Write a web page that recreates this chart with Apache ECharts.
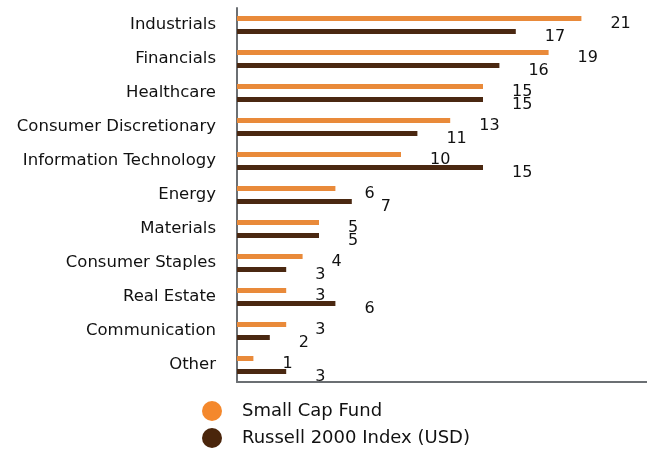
<!DOCTYPE html>
<html>
<head>
<meta charset="utf-8">
<script src="https://cdn.jsdelivr.net/npm/echarts@6/dist/echarts.min.js"></script>
<style>
html, body { margin: 0; padding: 0; background: #fff; }
#main { width: 647px; height: 454px; }
</style>
</head>
<body>
<div id="main"></div>
<script>
// sectors, top to bottom
var sectors = ['Industrials', 'Financials', 'Healthcare', 'Consumer Discretionary', 'Information Technology',
    'Energy', 'Materials', 'Consumer Staples', 'Real Estate', 'Communication', 'Other'];
var fundValues = [21, 19, 15, 13, 10, 6, 5, 4, 3, 3, 1];
var indexValues = [17, 16, 15, 11, 15, 7, 5, 3, 6, 2, 3];
var seriesNames = ['Small Cap Fund', 'Russell 2000 Index (USD)'];

var fontName = 'DejaVu Sans';

var valueLabel = {
    show: true,
    position: 'right',
    distance: 29,
    offset: [0, 5],
    color: '#111',
    fontSize: 16,
    fontFamily: fontName
};

var option = {
    animation: false,
    grid: {
        left: 237,
        right: 0,
        top: 8,
        bottom: 72
    },
    legend: {
        orient: 'vertical',
        left: 202,
        top: 401,
        padding: 0,
        icon: 'circle',
        itemWidth: 20,
        itemHeight: 20,
        itemGap: 7,
        textStyle: { color: '#111', fontSize: 18, fontFamily: fontName, padding: [0, 0, 0, 15] },
        data: [
            { name: seriesNames[0], itemStyle: { color: '#F4882C' } },
            { name: seriesNames[1], itemStyle: { color: '#4A250B' } }
        ]
    },
    xAxis: {
        type: 'value',
        min: 0,
        max: 25,
        axisLine: { show: true, lineStyle: { color: '#6b6f73', width: 2 } },
        axisTick: { show: false },
        axisLabel: { show: false },
        splitLine: { show: false }
    },
    yAxis: {
        type: 'category',
        inverse: true,
        data: sectors,
        axisLine: { show: true, lineStyle: { color: '#6b6f73', width: 2 } },
        axisTick: { show: false },
        axisLabel: { color: '#111', fontSize: 16.5, fontFamily: fontName, margin: 21, lineHeight: 20, padding: [3, 0, 0, 0] }
    },
    series: [
        {
            name: seriesNames[0],
            type: 'bar',
            data: fundValues,
            barWidth: 5,
            barGap: '160%',
            itemStyle: { color: '#E98A3A' },
            label: valueLabel
        },
        {
            name: seriesNames[1],
            type: 'bar',
            data: indexValues,
            barWidth: 5,
            itemStyle: { color: '#4A2811' },
            label: valueLabel
        }
    ]
};

var chart = echarts.init(document.getElementById('main'));
chart.setOption(option);
</script>
</body>
</html>
